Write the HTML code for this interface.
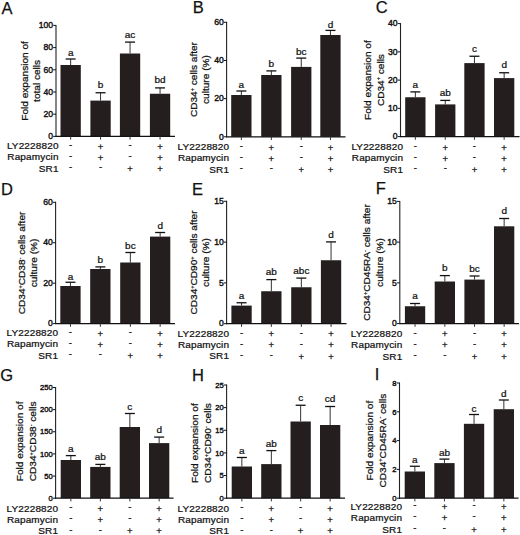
<!DOCTYPE html>
<html><head><meta charset="utf-8"><style>
html,body{margin:0;padding:0;background:#fff;}
body{width:520px;height:535px;overflow:hidden;}
svg{display:block;}
text{font-family:"Liberation Sans",sans-serif;fill:#111;stroke:#111;stroke-width:0.25px;}
.pl{font-size:16.5px;}
.tk{font-size:8.6px;stroke-width:0.4px;}
.sg{font-size:10px;}
.xl{font-size:10px;letter-spacing:0.15px;}
.yl{font-size:10.1px;}
.sup{font-size:5.6px;}
.pm{font-size:9.5px;}
</style></head><body>
<svg width="520" height="535" viewBox="0 0 520 535">
<rect width="520" height="535" fill="#fff"/>
<g><text class="pl" x="1.50" y="14.20">A</text><rect x="60.50" y="65.00" width="20.3" height="71.40" fill="#251e1e"/><line x1="70.65" y1="65.00" x2="70.65" y2="59.00" stroke="#333" stroke-width="1"/><line x1="65.65" y1="59.00" x2="75.65" y2="59.00" stroke="#111" stroke-width="1.3"/><text class="sg" transform="translate(70.65,55.50) scale(1,0.88)" text-anchor="middle">a</text><rect x="90.40" y="100.60" width="20.3" height="35.80" fill="#251e1e"/><line x1="100.55" y1="100.60" x2="100.55" y2="92.75" stroke="#333" stroke-width="1"/><line x1="95.55" y1="92.75" x2="105.55" y2="92.75" stroke="#111" stroke-width="1.3"/><text class="sg" transform="translate(100.55,87.70) scale(1,0.88)" text-anchor="middle">b</text><rect x="119.90" y="53.50" width="20.3" height="82.90" fill="#251e1e"/><line x1="130.05" y1="53.50" x2="130.05" y2="42.10" stroke="#333" stroke-width="1"/><line x1="125.05" y1="42.10" x2="135.05" y2="42.10" stroke="#111" stroke-width="1.3"/><text class="sg" transform="translate(130.05,37.80) scale(1,0.88)" text-anchor="middle">ac</text><rect x="149.90" y="93.75" width="20.3" height="42.65" fill="#251e1e"/><line x1="160.05" y1="93.75" x2="160.05" y2="87.90" stroke="#333" stroke-width="1"/><line x1="155.05" y1="87.90" x2="165.05" y2="87.90" stroke="#111" stroke-width="1.3"/><text class="sg" transform="translate(160.05,83.10) scale(1,0.88)" text-anchor="middle">bd</text><line x1="56" y1="24.90" x2="56" y2="136.90" stroke="#222" stroke-width="1.1"/><line x1="55.5" y1="136.4" x2="175" y2="136.4" stroke="#111" stroke-width="1.2"/><line x1="53.20" y1="136.40" x2="56" y2="136.40" stroke="#111" stroke-width="1"/><text class="tk" style="font-size:8.6px" x="53.10" y="139.10" text-anchor="end">0</text><line x1="53.20" y1="114.20" x2="56" y2="114.20" stroke="#111" stroke-width="1"/><text class="tk" style="font-size:8.6px" x="53.10" y="116.90" text-anchor="end">20</text><line x1="53.20" y1="92.00" x2="56" y2="92.00" stroke="#111" stroke-width="1"/><text class="tk" style="font-size:8.6px" x="53.10" y="94.70" text-anchor="end">40</text><line x1="53.20" y1="69.80" x2="56" y2="69.80" stroke="#111" stroke-width="1"/><text class="tk" style="font-size:8.6px" x="53.10" y="72.50" text-anchor="end">60</text><line x1="53.20" y1="47.60" x2="56" y2="47.60" stroke="#111" stroke-width="1"/><text class="tk" style="font-size:8.6px" x="53.10" y="50.30" text-anchor="end">80</text><line x1="53.20" y1="25.40" x2="56" y2="25.40" stroke="#111" stroke-width="1"/><text class="tk" style="font-size:8.6px" x="53.10" y="28.10" text-anchor="end">100</text><line x1="70.65" y1="136.4" x2="70.65" y2="139.60" stroke="#333" stroke-width="1"/><line x1="100.55" y1="136.4" x2="100.55" y2="139.60" stroke="#333" stroke-width="1"/><line x1="130.05" y1="136.4" x2="130.05" y2="139.60" stroke="#333" stroke-width="1"/><line x1="160.05" y1="136.4" x2="160.05" y2="139.60" stroke="#333" stroke-width="1"/><text class="xl" transform="translate(58.60,149.30) scale(1,0.88)" text-anchor="end">LY2228820</text><text class="pm" x="70.65" y="147.90" text-anchor="middle">-</text><text class="pm" x="100.55" y="149.50" text-anchor="middle">+</text><text class="pm" x="130.05" y="147.90" text-anchor="middle">-</text><text class="pm" x="160.05" y="149.50" text-anchor="middle">+</text><text class="xl" transform="translate(58.60,160.40) scale(1,0.88)" text-anchor="end">Rapamycin</text><text class="pm" x="70.65" y="159.00" text-anchor="middle">-</text><text class="pm" x="100.55" y="160.60" text-anchor="middle">+</text><text class="pm" x="130.05" y="159.00" text-anchor="middle">-</text><text class="pm" x="160.05" y="160.60" text-anchor="middle">+</text><text class="xl" transform="translate(58.60,171.80) scale(1,0.88)" text-anchor="end">SR1</text><text class="pm" x="70.65" y="170.40" text-anchor="middle">-</text><text class="pm" x="100.55" y="170.40" text-anchor="middle">-</text><text class="pm" x="130.05" y="172.00" text-anchor="middle">+</text><text class="pm" x="160.05" y="172.00" text-anchor="middle">+</text><text class="yl" transform="translate(27.80,80.90) rotate(-90) scale(1,0.92)" x="0" y="0" text-anchor="middle">Fold expansion of</text><text class="yl" transform="translate(40.20,80.90) rotate(-90) scale(1,0.92)" x="0" y="0" text-anchor="middle">total cells</text></g>
<g><text class="pl" x="192.80" y="13.00">B</text><rect x="231.20" y="95.00" width="20.3" height="41.80" fill="#251e1e"/><line x1="241.35" y1="95.00" x2="241.35" y2="91.00" stroke="#333" stroke-width="1"/><line x1="236.35" y1="91.00" x2="246.35" y2="91.00" stroke="#111" stroke-width="1.3"/><text class="sg" transform="translate(241.35,88.00) scale(1,0.88)" text-anchor="middle">a</text><rect x="261.20" y="75.00" width="20.3" height="61.80" fill="#251e1e"/><line x1="271.35" y1="75.00" x2="271.35" y2="70.90" stroke="#333" stroke-width="1"/><line x1="266.35" y1="70.90" x2="276.35" y2="70.90" stroke="#111" stroke-width="1.3"/><text class="sg" transform="translate(271.35,67.10) scale(1,0.88)" text-anchor="middle">b</text><rect x="291.10" y="66.90" width="20.3" height="69.90" fill="#251e1e"/><line x1="301.25" y1="66.90" x2="301.25" y2="58.10" stroke="#333" stroke-width="1"/><line x1="296.25" y1="58.10" x2="306.25" y2="58.10" stroke="#111" stroke-width="1.3"/><text class="sg" transform="translate(301.25,55.00) scale(1,0.88)" text-anchor="middle">bc</text><rect x="320.30" y="35.00" width="20.3" height="101.80" fill="#251e1e"/><line x1="330.45" y1="35.00" x2="330.45" y2="30.40" stroke="#333" stroke-width="1"/><line x1="325.45" y1="30.40" x2="335.45" y2="30.40" stroke="#111" stroke-width="1.3"/><text class="sg" transform="translate(330.45,27.50) scale(1,0.88)" text-anchor="middle">d</text><line x1="226.6" y1="21.80" x2="226.6" y2="137.30" stroke="#222" stroke-width="1.1"/><line x1="226.1" y1="136.8" x2="345.5" y2="136.8" stroke="#111" stroke-width="1.2"/><line x1="223.80" y1="136.80" x2="226.6" y2="136.80" stroke="#111" stroke-width="1"/><text class="tk" style="font-size:8.6px" x="223.70" y="139.50" text-anchor="end">0</text><line x1="223.80" y1="98.63" x2="226.6" y2="98.63" stroke="#111" stroke-width="1"/><text class="tk" style="font-size:8.6px" x="223.70" y="101.33" text-anchor="end">20</text><line x1="223.80" y1="60.47" x2="226.6" y2="60.47" stroke="#111" stroke-width="1"/><text class="tk" style="font-size:8.6px" x="223.70" y="63.17" text-anchor="end">40</text><line x1="223.80" y1="22.30" x2="226.6" y2="22.30" stroke="#111" stroke-width="1"/><text class="tk" style="font-size:8.6px" x="223.70" y="25.00" text-anchor="end">60</text><line x1="241.35" y1="136.8" x2="241.35" y2="140.00" stroke="#333" stroke-width="1"/><line x1="271.35" y1="136.8" x2="271.35" y2="140.00" stroke="#333" stroke-width="1"/><line x1="301.25" y1="136.8" x2="301.25" y2="140.00" stroke="#333" stroke-width="1"/><line x1="330.45" y1="136.8" x2="330.45" y2="140.00" stroke="#333" stroke-width="1"/><text class="xl" transform="translate(229.20,150.30) scale(1,0.88)" text-anchor="end">LY2228820</text><text class="pm" x="241.35" y="148.90" text-anchor="middle">-</text><text class="pm" x="271.35" y="150.50" text-anchor="middle">+</text><text class="pm" x="301.25" y="148.90" text-anchor="middle">-</text><text class="pm" x="330.45" y="150.50" text-anchor="middle">+</text><text class="xl" transform="translate(229.20,161.30) scale(1,0.88)" text-anchor="end">Rapamycin</text><text class="pm" x="241.35" y="159.90" text-anchor="middle">-</text><text class="pm" x="271.35" y="161.50" text-anchor="middle">+</text><text class="pm" x="301.25" y="159.90" text-anchor="middle">-</text><text class="pm" x="330.45" y="161.50" text-anchor="middle">+</text><text class="xl" transform="translate(229.20,172.70) scale(1,0.88)" text-anchor="end">SR1</text><text class="pm" x="241.35" y="171.30" text-anchor="middle">-</text><text class="pm" x="271.35" y="171.30" text-anchor="middle">-</text><text class="pm" x="301.25" y="172.90" text-anchor="middle">+</text><text class="pm" x="330.45" y="172.90" text-anchor="middle">+</text><text class="yl" transform="translate(197.00,79.55) rotate(-90) scale(1,0.92)" x="0" y="0" text-anchor="middle">CD34<tspan class='sup' dy='-3.6'>+</tspan><tspan dy='3.6'> cells after</tspan></text><text class="yl" transform="translate(208.70,79.55) rotate(-90) scale(1,0.92)" x="0" y="0" text-anchor="middle">culture (%)</text></g>
<g><text class="pl" x="375.80" y="12.60">C</text><rect x="405.20" y="97.25" width="20.3" height="39.35" fill="#251e1e"/><line x1="415.35" y1="97.25" x2="415.35" y2="91.90" stroke="#333" stroke-width="1"/><line x1="410.35" y1="91.90" x2="420.35" y2="91.90" stroke="#111" stroke-width="1.3"/><text class="sg" transform="translate(415.35,87.80) scale(1,0.88)" text-anchor="middle">a</text><rect x="435.10" y="104.40" width="20.3" height="32.20" fill="#251e1e"/><line x1="445.25" y1="104.40" x2="445.25" y2="100.40" stroke="#333" stroke-width="1"/><line x1="440.25" y1="100.40" x2="450.25" y2="100.40" stroke="#111" stroke-width="1.3"/><text class="sg" transform="translate(445.25,95.90) scale(1,0.88)" text-anchor="middle">ab</text><rect x="464.30" y="63.10" width="20.3" height="73.50" fill="#251e1e"/><line x1="474.45" y1="63.10" x2="474.45" y2="56.25" stroke="#333" stroke-width="1"/><line x1="469.45" y1="56.25" x2="479.45" y2="56.25" stroke="#111" stroke-width="1.3"/><text class="sg" transform="translate(474.45,51.80) scale(1,0.88)" text-anchor="middle">c</text><rect x="494.00" y="78.10" width="20.3" height="58.50" fill="#251e1e"/><line x1="504.15" y1="78.10" x2="504.15" y2="72.75" stroke="#333" stroke-width="1"/><line x1="499.15" y1="72.75" x2="509.15" y2="72.75" stroke="#111" stroke-width="1.3"/><text class="sg" transform="translate(504.15,68.20) scale(1,0.88)" text-anchor="middle">d</text><line x1="400.5" y1="23.10" x2="400.5" y2="137.10" stroke="#222" stroke-width="1.1"/><line x1="400.0" y1="136.6" x2="519.5" y2="136.6" stroke="#111" stroke-width="1.2"/><line x1="397.70" y1="136.60" x2="400.5" y2="136.60" stroke="#111" stroke-width="1"/><text class="tk" style="font-size:8.6px" x="397.60" y="139.30" text-anchor="end">0</text><line x1="397.70" y1="108.35" x2="400.5" y2="108.35" stroke="#111" stroke-width="1"/><text class="tk" style="font-size:8.6px" x="397.60" y="111.05" text-anchor="end">10</text><line x1="397.70" y1="80.10" x2="400.5" y2="80.10" stroke="#111" stroke-width="1"/><text class="tk" style="font-size:8.6px" x="397.60" y="82.80" text-anchor="end">20</text><line x1="397.70" y1="51.85" x2="400.5" y2="51.85" stroke="#111" stroke-width="1"/><text class="tk" style="font-size:8.6px" x="397.60" y="54.55" text-anchor="end">30</text><line x1="397.70" y1="23.60" x2="400.5" y2="23.60" stroke="#111" stroke-width="1"/><text class="tk" style="font-size:8.6px" x="397.60" y="26.30" text-anchor="end">40</text><line x1="415.35" y1="136.6" x2="415.35" y2="139.80" stroke="#333" stroke-width="1"/><line x1="445.25" y1="136.6" x2="445.25" y2="139.80" stroke="#333" stroke-width="1"/><line x1="474.45" y1="136.6" x2="474.45" y2="139.80" stroke="#333" stroke-width="1"/><line x1="504.15" y1="136.6" x2="504.15" y2="139.80" stroke="#333" stroke-width="1"/><text class="xl" transform="translate(403.10,150.30) scale(1,0.88)" text-anchor="end">LY2228820</text><text class="pm" x="415.35" y="148.90" text-anchor="middle">-</text><text class="pm" x="445.25" y="150.50" text-anchor="middle">+</text><text class="pm" x="474.45" y="148.90" text-anchor="middle">-</text><text class="pm" x="504.15" y="150.50" text-anchor="middle">+</text><text class="xl" transform="translate(403.10,161.30) scale(1,0.88)" text-anchor="end">Rapamycin</text><text class="pm" x="415.35" y="159.90" text-anchor="middle">-</text><text class="pm" x="445.25" y="161.50" text-anchor="middle">+</text><text class="pm" x="474.45" y="159.90" text-anchor="middle">-</text><text class="pm" x="504.15" y="161.50" text-anchor="middle">+</text><text class="xl" transform="translate(403.10,172.70) scale(1,0.88)" text-anchor="end">SR1</text><text class="pm" x="415.35" y="171.30" text-anchor="middle">-</text><text class="pm" x="445.25" y="171.30" text-anchor="middle">-</text><text class="pm" x="474.45" y="172.90" text-anchor="middle">+</text><text class="pm" x="504.15" y="172.90" text-anchor="middle">+</text><text class="yl" transform="translate(371.00,80.10) rotate(-90) scale(1,0.92)" x="0" y="0" text-anchor="middle">Fold expansion of</text><text class="yl" transform="translate(383.50,80.10) rotate(-90) scale(1,0.92)" x="0" y="0" text-anchor="middle">CD34<tspan class='sup' dy='-3.6'>+</tspan><tspan dy='3.6'> cells</tspan></text></g>
<g><text class="pl" x="1.10" y="195.00">D</text><rect x="60.30" y="286.00" width="20.3" height="37.60" fill="#251e1e"/><line x1="70.45" y1="286.00" x2="70.45" y2="282.25" stroke="#333" stroke-width="1"/><line x1="65.45" y1="282.25" x2="75.45" y2="282.25" stroke="#111" stroke-width="1.3"/><text class="sg" transform="translate(70.45,279.70) scale(1,0.88)" text-anchor="middle">a</text><rect x="90.20" y="269.00" width="20.3" height="54.60" fill="#251e1e"/><line x1="100.35" y1="269.00" x2="100.35" y2="266.90" stroke="#333" stroke-width="1"/><line x1="95.35" y1="266.90" x2="105.35" y2="266.90" stroke="#111" stroke-width="1.3"/><text class="sg" transform="translate(100.35,263.30) scale(1,0.88)" text-anchor="middle">b</text><rect x="120.20" y="262.50" width="20.3" height="61.10" fill="#251e1e"/><line x1="130.35" y1="262.50" x2="130.35" y2="252.50" stroke="#333" stroke-width="1"/><line x1="125.35" y1="252.50" x2="135.35" y2="252.50" stroke="#111" stroke-width="1.3"/><text class="sg" transform="translate(130.35,249.00) scale(1,0.88)" text-anchor="middle">bc</text><rect x="150.00" y="236.60" width="20.3" height="87.00" fill="#251e1e"/><line x1="160.15" y1="236.60" x2="160.15" y2="232.50" stroke="#333" stroke-width="1"/><line x1="155.15" y1="232.50" x2="165.15" y2="232.50" stroke="#111" stroke-width="1.3"/><text class="sg" transform="translate(160.15,229.30) scale(1,0.88)" text-anchor="middle">d</text><line x1="55.6" y1="201.80" x2="55.6" y2="324.10" stroke="#222" stroke-width="1.1"/><line x1="55.1" y1="323.6" x2="175" y2="323.6" stroke="#111" stroke-width="1.2"/><line x1="52.80" y1="323.60" x2="55.6" y2="323.60" stroke="#111" stroke-width="1"/><text class="tk" style="font-size:8.6px" x="52.70" y="326.30" text-anchor="end">0</text><line x1="52.80" y1="283.17" x2="55.6" y2="283.17" stroke="#111" stroke-width="1"/><text class="tk" style="font-size:8.6px" x="52.70" y="285.87" text-anchor="end">20</text><line x1="52.80" y1="242.73" x2="55.6" y2="242.73" stroke="#111" stroke-width="1"/><text class="tk" style="font-size:8.6px" x="52.70" y="245.43" text-anchor="end">40</text><line x1="52.80" y1="202.30" x2="55.6" y2="202.30" stroke="#111" stroke-width="1"/><text class="tk" style="font-size:8.6px" x="52.70" y="205.00" text-anchor="end">60</text><line x1="70.45" y1="323.6" x2="70.45" y2="326.80" stroke="#333" stroke-width="1"/><line x1="100.35" y1="323.6" x2="100.35" y2="326.80" stroke="#333" stroke-width="1"/><line x1="130.35" y1="323.6" x2="130.35" y2="326.80" stroke="#333" stroke-width="1"/><line x1="160.15" y1="323.6" x2="160.15" y2="326.80" stroke="#333" stroke-width="1"/><text class="xl" transform="translate(58.20,336.30) scale(1,0.88)" text-anchor="end">LY2228820</text><text class="pm" x="70.45" y="334.90" text-anchor="middle">-</text><text class="pm" x="100.35" y="336.50" text-anchor="middle">+</text><text class="pm" x="130.35" y="334.90" text-anchor="middle">-</text><text class="pm" x="160.15" y="336.50" text-anchor="middle">+</text><text class="xl" transform="translate(58.20,347.30) scale(1,0.88)" text-anchor="end">Rapamycin</text><text class="pm" x="70.45" y="345.90" text-anchor="middle">-</text><text class="pm" x="100.35" y="347.50" text-anchor="middle">+</text><text class="pm" x="130.35" y="345.90" text-anchor="middle">-</text><text class="pm" x="160.15" y="347.50" text-anchor="middle">+</text><text class="xl" transform="translate(58.20,358.70) scale(1,0.88)" text-anchor="end">SR1</text><text class="pm" x="70.45" y="357.30" text-anchor="middle">-</text><text class="pm" x="100.35" y="357.30" text-anchor="middle">-</text><text class="pm" x="130.35" y="358.90" text-anchor="middle">+</text><text class="pm" x="160.15" y="358.90" text-anchor="middle">+</text><text class="yl" transform="translate(25.30,262.95) rotate(-90) scale(1,0.92)" x="0" y="0" text-anchor="middle">CD34<tspan class='sup' dy='-3.6'>+</tspan><tspan dy='3.6'>CD38</tspan><tspan class='sup' dy='-3.6'>-</tspan><tspan dy='3.6'> cells after</tspan></text><text class="yl" transform="translate(37.20,262.95) rotate(-90) scale(1,0.92)" x="0" y="0" text-anchor="middle">culture (%)</text></g>
<g><text class="pl" x="191.90" y="194.60">E</text><rect x="231.40" y="305.60" width="20.3" height="18.10" fill="#251e1e"/><line x1="241.55" y1="305.60" x2="241.55" y2="302.75" stroke="#333" stroke-width="1"/><line x1="236.55" y1="302.75" x2="246.55" y2="302.75" stroke="#111" stroke-width="1.3"/><text class="sg" transform="translate(241.55,299.00) scale(1,0.88)" text-anchor="middle">a</text><rect x="261.20" y="291.25" width="20.3" height="32.45" fill="#251e1e"/><line x1="271.35" y1="291.25" x2="271.35" y2="279.60" stroke="#333" stroke-width="1"/><line x1="266.35" y1="279.60" x2="276.35" y2="279.60" stroke="#111" stroke-width="1.3"/><text class="sg" transform="translate(271.35,275.30) scale(1,0.88)" text-anchor="middle">ab</text><rect x="291.20" y="287.25" width="20.3" height="36.45" fill="#251e1e"/><line x1="301.35" y1="287.25" x2="301.35" y2="278.10" stroke="#333" stroke-width="1"/><line x1="296.35" y1="278.10" x2="306.35" y2="278.10" stroke="#111" stroke-width="1.3"/><text class="sg" transform="translate(301.35,274.30) scale(1,0.88)" text-anchor="middle">abc</text><rect x="320.90" y="260.25" width="20.3" height="63.45" fill="#251e1e"/><line x1="331.05" y1="260.25" x2="331.05" y2="241.90" stroke="#333" stroke-width="1"/><line x1="326.05" y1="241.90" x2="336.05" y2="241.90" stroke="#111" stroke-width="1.3"/><text class="sg" transform="translate(331.05,237.80) scale(1,0.88)" text-anchor="middle">d</text><line x1="226.6" y1="200.80" x2="226.6" y2="324.20" stroke="#222" stroke-width="1.1"/><line x1="226.1" y1="323.7" x2="346.5" y2="323.7" stroke="#111" stroke-width="1.2"/><line x1="223.80" y1="323.70" x2="226.6" y2="323.70" stroke="#111" stroke-width="1"/><text class="tk" style="font-size:8.6px" x="223.70" y="326.40" text-anchor="end">0</text><line x1="223.80" y1="282.90" x2="226.6" y2="282.90" stroke="#111" stroke-width="1"/><text class="tk" style="font-size:8.6px" x="223.70" y="285.60" text-anchor="end">5</text><line x1="223.80" y1="242.10" x2="226.6" y2="242.10" stroke="#111" stroke-width="1"/><text class="tk" style="font-size:8.6px" x="223.70" y="244.80" text-anchor="end">10</text><line x1="223.80" y1="201.30" x2="226.6" y2="201.30" stroke="#111" stroke-width="1"/><text class="tk" style="font-size:8.6px" x="223.70" y="204.00" text-anchor="end">15</text><line x1="241.55" y1="323.7" x2="241.55" y2="326.90" stroke="#333" stroke-width="1"/><line x1="271.35" y1="323.7" x2="271.35" y2="326.90" stroke="#333" stroke-width="1"/><line x1="301.35" y1="323.7" x2="301.35" y2="326.90" stroke="#333" stroke-width="1"/><line x1="331.05" y1="323.7" x2="331.05" y2="326.90" stroke="#333" stroke-width="1"/><text class="xl" transform="translate(229.20,336.90) scale(1,0.88)" text-anchor="end">LY2228820</text><text class="pm" x="241.55" y="335.50" text-anchor="middle">-</text><text class="pm" x="271.35" y="337.10" text-anchor="middle">+</text><text class="pm" x="301.35" y="335.50" text-anchor="middle">-</text><text class="pm" x="331.05" y="337.10" text-anchor="middle">+</text><text class="xl" transform="translate(229.20,347.90) scale(1,0.88)" text-anchor="end">Rapamycin</text><text class="pm" x="241.55" y="346.50" text-anchor="middle">-</text><text class="pm" x="271.35" y="348.10" text-anchor="middle">+</text><text class="pm" x="301.35" y="346.50" text-anchor="middle">-</text><text class="pm" x="331.05" y="348.10" text-anchor="middle">+</text><text class="xl" transform="translate(229.20,359.40) scale(1,0.88)" text-anchor="end">SR1</text><text class="pm" x="241.55" y="358.00" text-anchor="middle">-</text><text class="pm" x="271.35" y="358.00" text-anchor="middle">-</text><text class="pm" x="301.35" y="359.60" text-anchor="middle">+</text><text class="pm" x="331.05" y="359.60" text-anchor="middle">+</text><text class="yl" transform="translate(197.00,262.50) rotate(-90) scale(1,0.92)" x="0" y="0" text-anchor="middle">CD34<tspan class='sup' dy='-3.6'>+</tspan><tspan dy='3.6'>CD90</tspan><tspan class='sup' dy='-3.6'>+</tspan><tspan dy='3.6'> cells after</tspan></text><text class="yl" transform="translate(208.70,262.50) rotate(-90) scale(1,0.92)" x="0" y="0" text-anchor="middle">culture (%)</text></g>
<g><text class="pl" x="375.80" y="194.00">F</text><rect x="404.90" y="306.25" width="20.3" height="17.35" fill="#251e1e"/><line x1="415.05" y1="306.25" x2="415.05" y2="303.50" stroke="#333" stroke-width="1"/><line x1="410.05" y1="303.50" x2="420.05" y2="303.50" stroke="#111" stroke-width="1.3"/><text class="sg" transform="translate(415.05,299.30) scale(1,0.88)" text-anchor="middle">a</text><rect x="434.70" y="281.50" width="20.3" height="42.10" fill="#251e1e"/><line x1="444.85" y1="281.50" x2="444.85" y2="275.60" stroke="#333" stroke-width="1"/><line x1="439.85" y1="275.60" x2="449.85" y2="275.60" stroke="#111" stroke-width="1.3"/><text class="sg" transform="translate(444.85,270.90) scale(1,0.88)" text-anchor="middle">b</text><rect x="464.40" y="279.60" width="20.3" height="44.00" fill="#251e1e"/><line x1="474.55" y1="279.60" x2="474.55" y2="276.00" stroke="#333" stroke-width="1"/><line x1="469.55" y1="276.00" x2="479.55" y2="276.00" stroke="#111" stroke-width="1.3"/><text class="sg" transform="translate(474.55,271.50) scale(1,0.88)" text-anchor="middle">bc</text><rect x="494.00" y="226.30" width="20.3" height="97.30" fill="#251e1e"/><line x1="504.15" y1="226.30" x2="504.15" y2="218.50" stroke="#333" stroke-width="1"/><line x1="499.15" y1="218.50" x2="509.15" y2="218.50" stroke="#111" stroke-width="1.3"/><text class="sg" transform="translate(504.15,214.00) scale(1,0.88)" text-anchor="middle">d</text><line x1="399.8" y1="200.90" x2="399.8" y2="324.10" stroke="#222" stroke-width="1.1"/><line x1="399.3" y1="323.6" x2="519" y2="323.6" stroke="#111" stroke-width="1.2"/><line x1="397.00" y1="323.60" x2="399.8" y2="323.60" stroke="#111" stroke-width="1"/><text class="tk" style="font-size:8.6px" x="396.90" y="326.30" text-anchor="end">0</text><line x1="397.00" y1="282.87" x2="399.8" y2="282.87" stroke="#111" stroke-width="1"/><text class="tk" style="font-size:8.6px" x="396.90" y="285.57" text-anchor="end">5</text><line x1="397.00" y1="242.13" x2="399.8" y2="242.13" stroke="#111" stroke-width="1"/><text class="tk" style="font-size:8.6px" x="396.90" y="244.83" text-anchor="end">10</text><line x1="397.00" y1="201.40" x2="399.8" y2="201.40" stroke="#111" stroke-width="1"/><text class="tk" style="font-size:8.6px" x="396.90" y="204.10" text-anchor="end">15</text><line x1="415.05" y1="323.6" x2="415.05" y2="326.80" stroke="#333" stroke-width="1"/><line x1="444.85" y1="323.6" x2="444.85" y2="326.80" stroke="#333" stroke-width="1"/><line x1="474.55" y1="323.6" x2="474.55" y2="326.80" stroke="#333" stroke-width="1"/><line x1="504.15" y1="323.6" x2="504.15" y2="326.80" stroke="#333" stroke-width="1"/><text class="xl" transform="translate(402.40,337.20) scale(1,0.88)" text-anchor="end">LY2228820</text><text class="pm" x="415.05" y="335.80" text-anchor="middle">-</text><text class="pm" x="444.85" y="337.40" text-anchor="middle">+</text><text class="pm" x="474.55" y="335.80" text-anchor="middle">-</text><text class="pm" x="504.15" y="337.40" text-anchor="middle">+</text><text class="xl" transform="translate(402.40,348.20) scale(1,0.88)" text-anchor="end">Rapamycin</text><text class="pm" x="415.05" y="346.80" text-anchor="middle">-</text><text class="pm" x="444.85" y="348.40" text-anchor="middle">+</text><text class="pm" x="474.55" y="346.80" text-anchor="middle">-</text><text class="pm" x="504.15" y="348.40" text-anchor="middle">+</text><text class="xl" transform="translate(402.40,359.70) scale(1,0.88)" text-anchor="end">SR1</text><text class="pm" x="415.05" y="358.30" text-anchor="middle">-</text><text class="pm" x="444.85" y="358.30" text-anchor="middle">-</text><text class="pm" x="474.55" y="359.90" text-anchor="middle">+</text><text class="pm" x="504.15" y="359.90" text-anchor="middle">+</text><text class="yl" transform="translate(370.00,262.50) rotate(-90) scale(1,0.92)" x="0" y="0" text-anchor="middle">CD34<tspan class='sup' dy='-3.6'>+</tspan><tspan dy='3.6'>CD45RA</tspan><tspan class='sup' dy='-3.6'>-</tspan><tspan dy='3.6'> cells after</tspan></text><text class="yl" transform="translate(382.60,262.50) rotate(-90) scale(1,0.92)" x="0" y="0" text-anchor="middle">culture (%)</text></g>
<g><text class="pl" x="0.30" y="380.80">G</text><rect x="60.70" y="460.00" width="20.3" height="38.20" fill="#251e1e"/><line x1="70.85" y1="460.00" x2="70.85" y2="455.60" stroke="#333" stroke-width="1"/><line x1="65.85" y1="455.60" x2="75.85" y2="455.60" stroke="#111" stroke-width="1.3"/><text class="sg" transform="translate(70.85,451.80) scale(1,0.88)" text-anchor="middle">a</text><rect x="90.20" y="466.90" width="20.3" height="31.30" fill="#251e1e"/><line x1="100.35" y1="466.90" x2="100.35" y2="464.40" stroke="#333" stroke-width="1"/><line x1="95.35" y1="464.40" x2="105.35" y2="464.40" stroke="#111" stroke-width="1.3"/><text class="sg" transform="translate(100.35,460.30) scale(1,0.88)" text-anchor="middle">ab</text><rect x="119.70" y="427.00" width="20.3" height="71.20" fill="#251e1e"/><line x1="129.85" y1="427.00" x2="129.85" y2="413.50" stroke="#333" stroke-width="1"/><line x1="124.85" y1="413.50" x2="134.85" y2="413.50" stroke="#111" stroke-width="1.3"/><text class="sg" transform="translate(129.85,410.00) scale(1,0.88)" text-anchor="middle">c</text><rect x="149.00" y="443.10" width="20.3" height="55.10" fill="#251e1e"/><line x1="159.15" y1="443.10" x2="159.15" y2="437.10" stroke="#333" stroke-width="1"/><line x1="154.15" y1="437.10" x2="164.15" y2="437.10" stroke="#111" stroke-width="1.3"/><text class="sg" transform="translate(159.15,433.00) scale(1,0.88)" text-anchor="middle">d</text><line x1="55.6" y1="387.00" x2="55.6" y2="498.70" stroke="#222" stroke-width="1.1"/><line x1="55.1" y1="498.2" x2="173.5" y2="498.2" stroke="#111" stroke-width="1.2"/><line x1="52.80" y1="498.20" x2="55.6" y2="498.20" stroke="#111" stroke-width="1"/><text class="tk" style="font-size:7.6px" x="52.70" y="500.90" text-anchor="end">0</text><line x1="52.80" y1="476.06" x2="55.6" y2="476.06" stroke="#111" stroke-width="1"/><text class="tk" style="font-size:7.6px" x="52.70" y="478.76" text-anchor="end">50</text><line x1="52.80" y1="453.92" x2="55.6" y2="453.92" stroke="#111" stroke-width="1"/><text class="tk" style="font-size:7.6px" x="52.70" y="456.62" text-anchor="end">100</text><line x1="52.80" y1="431.78" x2="55.6" y2="431.78" stroke="#111" stroke-width="1"/><text class="tk" style="font-size:7.6px" x="52.70" y="434.48" text-anchor="end">150</text><line x1="52.80" y1="409.64" x2="55.6" y2="409.64" stroke="#111" stroke-width="1"/><text class="tk" style="font-size:7.6px" x="52.70" y="412.34" text-anchor="end">200</text><line x1="52.80" y1="387.50" x2="55.6" y2="387.50" stroke="#111" stroke-width="1"/><text class="tk" style="font-size:7.6px" x="52.70" y="390.20" text-anchor="end">250</text><line x1="70.85" y1="498.2" x2="70.85" y2="501.40" stroke="#333" stroke-width="1"/><line x1="100.35" y1="498.2" x2="100.35" y2="501.40" stroke="#333" stroke-width="1"/><line x1="129.85" y1="498.2" x2="129.85" y2="501.40" stroke="#333" stroke-width="1"/><line x1="159.15" y1="498.2" x2="159.15" y2="501.40" stroke="#333" stroke-width="1"/><text class="xl" transform="translate(58.20,511.50) scale(1,0.88)" text-anchor="end">LY2228820</text><text class="pm" x="70.85" y="510.10" text-anchor="middle">-</text><text class="pm" x="100.35" y="511.70" text-anchor="middle">+</text><text class="pm" x="129.85" y="510.10" text-anchor="middle">-</text><text class="pm" x="159.15" y="511.70" text-anchor="middle">+</text><text class="xl" transform="translate(58.20,522.50) scale(1,0.88)" text-anchor="end">Rapamycin</text><text class="pm" x="70.85" y="521.10" text-anchor="middle">-</text><text class="pm" x="100.35" y="522.70" text-anchor="middle">+</text><text class="pm" x="129.85" y="521.10" text-anchor="middle">-</text><text class="pm" x="159.15" y="522.70" text-anchor="middle">+</text><text class="xl" transform="translate(58.20,534.10) scale(1,0.88)" text-anchor="end">SR1</text><text class="pm" x="70.85" y="532.70" text-anchor="middle">-</text><text class="pm" x="100.35" y="532.70" text-anchor="middle">-</text><text class="pm" x="129.85" y="534.30" text-anchor="middle">+</text><text class="pm" x="159.15" y="534.30" text-anchor="middle">+</text><text class="yl" transform="translate(23.00,441.35) rotate(-90) scale(1,0.92)" x="0" y="0" text-anchor="middle">Fold expansion of</text><text class="yl" transform="translate(36.00,441.35) rotate(-90) scale(1,0.92)" x="0" y="0" text-anchor="middle">CD34<tspan class='sup' dy='-3.6'>+</tspan><tspan dy='3.6'>CD38</tspan><tspan class='sup' dy='-3.6'>-</tspan><tspan dy='3.6'> cells</tspan></text></g>
<g><text class="pl" x="192.10" y="381.00">H</text><rect x="231.70" y="466.50" width="20.3" height="31.70" fill="#251e1e"/><line x1="241.85" y1="466.50" x2="241.85" y2="457.50" stroke="#333" stroke-width="1"/><line x1="236.85" y1="457.50" x2="246.85" y2="457.50" stroke="#111" stroke-width="1.3"/><text class="sg" transform="translate(241.85,453.80) scale(1,0.88)" text-anchor="middle">a</text><rect x="261.20" y="464.10" width="20.3" height="34.10" fill="#251e1e"/><line x1="271.35" y1="464.10" x2="271.35" y2="450.60" stroke="#333" stroke-width="1"/><line x1="266.35" y1="450.60" x2="276.35" y2="450.60" stroke="#111" stroke-width="1.3"/><text class="sg" transform="translate(271.35,446.50) scale(1,0.88)" text-anchor="middle">ab</text><rect x="290.50" y="421.50" width="20.3" height="76.70" fill="#251e1e"/><line x1="300.65" y1="421.50" x2="300.65" y2="405.25" stroke="#333" stroke-width="1"/><line x1="295.65" y1="405.25" x2="305.65" y2="405.25" stroke="#111" stroke-width="1.3"/><text class="sg" transform="translate(300.65,401.30) scale(1,0.88)" text-anchor="middle">c</text><rect x="320.00" y="425.00" width="20.3" height="73.20" fill="#251e1e"/><line x1="330.15" y1="425.00" x2="330.15" y2="406.50" stroke="#333" stroke-width="1"/><line x1="325.15" y1="406.50" x2="335.15" y2="406.50" stroke="#111" stroke-width="1.3"/><text class="sg" transform="translate(330.15,402.20) scale(1,0.88)" text-anchor="middle">cd</text><line x1="226.6" y1="384.50" x2="226.6" y2="498.70" stroke="#222" stroke-width="1.1"/><line x1="226.1" y1="498.2" x2="345" y2="498.2" stroke="#111" stroke-width="1.2"/><line x1="223.80" y1="498.20" x2="226.6" y2="498.20" stroke="#111" stroke-width="1"/><text class="tk" style="font-size:7.6px" x="223.70" y="500.90" text-anchor="end">0</text><line x1="223.80" y1="475.56" x2="226.6" y2="475.56" stroke="#111" stroke-width="1"/><text class="tk" style="font-size:7.6px" x="223.70" y="478.26" text-anchor="end">5</text><line x1="223.80" y1="452.92" x2="226.6" y2="452.92" stroke="#111" stroke-width="1"/><text class="tk" style="font-size:7.6px" x="223.70" y="455.62" text-anchor="end">10</text><line x1="223.80" y1="430.28" x2="226.6" y2="430.28" stroke="#111" stroke-width="1"/><text class="tk" style="font-size:7.6px" x="223.70" y="432.98" text-anchor="end">15</text><line x1="223.80" y1="407.64" x2="226.6" y2="407.64" stroke="#111" stroke-width="1"/><text class="tk" style="font-size:7.6px" x="223.70" y="410.34" text-anchor="end">20</text><line x1="223.80" y1="385.00" x2="226.6" y2="385.00" stroke="#111" stroke-width="1"/><text class="tk" style="font-size:7.6px" x="223.70" y="387.70" text-anchor="end">25</text><line x1="241.85" y1="498.2" x2="241.85" y2="501.40" stroke="#333" stroke-width="1"/><line x1="271.35" y1="498.2" x2="271.35" y2="501.40" stroke="#333" stroke-width="1"/><line x1="300.65" y1="498.2" x2="300.65" y2="501.40" stroke="#333" stroke-width="1"/><line x1="330.15" y1="498.2" x2="330.15" y2="501.40" stroke="#333" stroke-width="1"/><text class="xl" transform="translate(229.20,511.50) scale(1,0.88)" text-anchor="end">LY2228820</text><text class="pm" x="241.85" y="510.10" text-anchor="middle">-</text><text class="pm" x="271.35" y="511.70" text-anchor="middle">+</text><text class="pm" x="300.65" y="510.10" text-anchor="middle">-</text><text class="pm" x="330.15" y="511.70" text-anchor="middle">+</text><text class="xl" transform="translate(229.20,522.50) scale(1,0.88)" text-anchor="end">Rapamycin</text><text class="pm" x="241.85" y="521.10" text-anchor="middle">-</text><text class="pm" x="271.35" y="522.70" text-anchor="middle">+</text><text class="pm" x="300.65" y="521.10" text-anchor="middle">-</text><text class="pm" x="330.15" y="522.70" text-anchor="middle">+</text><text class="xl" transform="translate(229.20,533.90) scale(1,0.88)" text-anchor="end">SR1</text><text class="pm" x="241.85" y="532.50" text-anchor="middle">-</text><text class="pm" x="271.35" y="532.50" text-anchor="middle">-</text><text class="pm" x="300.65" y="534.10" text-anchor="middle">+</text><text class="pm" x="330.15" y="534.10" text-anchor="middle">+</text><text class="yl" transform="translate(198.00,443.10) rotate(-90) scale(1,0.92)" x="0" y="0" text-anchor="middle">Fold expansion of</text><text class="yl" transform="translate(211.00,443.10) rotate(-90) scale(1,0.92)" x="0" y="0" text-anchor="middle">CD34<tspan class='sup' dy='-3.6'>+</tspan><tspan dy='3.6'>CD90</tspan><tspan class='sup' dy='-3.6'>-</tspan><tspan dy='3.6'> cells</tspan></text></g>
<g><text class="pl" x="374.80" y="380.40">I</text><rect x="404.70" y="471.50" width="20.3" height="26.70" fill="#251e1e"/><line x1="414.85" y1="471.50" x2="414.85" y2="466.25" stroke="#333" stroke-width="1"/><line x1="409.85" y1="466.25" x2="419.85" y2="466.25" stroke="#111" stroke-width="1.3"/><text class="sg" transform="translate(414.85,462.90) scale(1,0.88)" text-anchor="middle">a</text><rect x="434.30" y="463.10" width="20.3" height="35.10" fill="#251e1e"/><line x1="444.45" y1="463.10" x2="444.45" y2="459.10" stroke="#333" stroke-width="1"/><line x1="439.45" y1="459.10" x2="449.45" y2="459.10" stroke="#111" stroke-width="1.3"/><text class="sg" transform="translate(444.45,455.70) scale(1,0.88)" text-anchor="middle">ab</text><rect x="463.90" y="423.80" width="20.3" height="74.40" fill="#251e1e"/><line x1="474.05" y1="423.80" x2="474.05" y2="414.50" stroke="#333" stroke-width="1"/><line x1="469.05" y1="414.50" x2="479.05" y2="414.50" stroke="#111" stroke-width="1.3"/><text class="sg" transform="translate(474.05,411.60) scale(1,0.88)" text-anchor="middle">c</text><rect x="493.70" y="409.20" width="20.3" height="89.00" fill="#251e1e"/><line x1="503.85" y1="409.20" x2="503.85" y2="400.00" stroke="#333" stroke-width="1"/><line x1="498.85" y1="400.00" x2="508.85" y2="400.00" stroke="#111" stroke-width="1.3"/><text class="sg" transform="translate(503.85,396.90) scale(1,0.88)" text-anchor="middle">d</text><line x1="399.5" y1="382.50" x2="399.5" y2="498.70" stroke="#222" stroke-width="1.1"/><line x1="399.0" y1="498.2" x2="518.5" y2="498.2" stroke="#111" stroke-width="1.2"/><line x1="396.70" y1="498.20" x2="399.5" y2="498.20" stroke="#111" stroke-width="1"/><text class="tk" style="font-size:7.6px" x="396.60" y="500.90" text-anchor="end">0</text><line x1="396.70" y1="469.40" x2="399.5" y2="469.40" stroke="#111" stroke-width="1"/><text class="tk" style="font-size:7.6px" x="396.60" y="472.10" text-anchor="end">2</text><line x1="396.70" y1="440.60" x2="399.5" y2="440.60" stroke="#111" stroke-width="1"/><text class="tk" style="font-size:7.6px" x="396.60" y="443.30" text-anchor="end">4</text><line x1="396.70" y1="411.80" x2="399.5" y2="411.80" stroke="#111" stroke-width="1"/><text class="tk" style="font-size:7.6px" x="396.60" y="414.50" text-anchor="end">6</text><line x1="396.70" y1="383.00" x2="399.5" y2="383.00" stroke="#111" stroke-width="1"/><text class="tk" style="font-size:7.6px" x="396.60" y="385.70" text-anchor="end">8</text><line x1="414.85" y1="498.2" x2="414.85" y2="501.40" stroke="#333" stroke-width="1"/><line x1="444.45" y1="498.2" x2="444.45" y2="501.40" stroke="#333" stroke-width="1"/><line x1="474.05" y1="498.2" x2="474.05" y2="501.40" stroke="#333" stroke-width="1"/><line x1="503.85" y1="498.2" x2="503.85" y2="501.40" stroke="#333" stroke-width="1"/><text class="xl" transform="translate(402.10,509.70) scale(1,0.88)" text-anchor="end">LY2228820</text><text class="pm" x="414.85" y="508.30" text-anchor="middle">-</text><text class="pm" x="444.45" y="509.90" text-anchor="middle">+</text><text class="pm" x="474.05" y="508.30" text-anchor="middle">-</text><text class="pm" x="503.85" y="509.90" text-anchor="middle">+</text><text class="xl" transform="translate(402.10,520.70) scale(1,0.88)" text-anchor="end">Rapamycin</text><text class="pm" x="414.85" y="519.30" text-anchor="middle">-</text><text class="pm" x="444.45" y="520.90" text-anchor="middle">+</text><text class="pm" x="474.05" y="519.30" text-anchor="middle">-</text><text class="pm" x="503.85" y="520.90" text-anchor="middle">+</text><text class="xl" transform="translate(402.10,532.50) scale(1,0.88)" text-anchor="end">SR1</text><text class="pm" x="414.85" y="531.10" text-anchor="middle">-</text><text class="pm" x="444.45" y="531.10" text-anchor="middle">-</text><text class="pm" x="474.05" y="532.70" text-anchor="middle">+</text><text class="pm" x="503.85" y="532.70" text-anchor="middle">+</text><text class="yl" transform="translate(372.70,440.60) rotate(-90) scale(1,0.92)" x="0" y="0" text-anchor="middle">Fold expansion of</text><text class="yl" transform="translate(385.50,440.60) rotate(-90) scale(1,0.92)" x="0" y="0" text-anchor="middle">CD34<tspan class='sup' dy='-3.6'>+</tspan><tspan dy='3.6'>CD45RA</tspan><tspan class='sup' dy='-3.6'>-</tspan><tspan dy='3.6'> cells</tspan></text></g>
</svg></body></html>
